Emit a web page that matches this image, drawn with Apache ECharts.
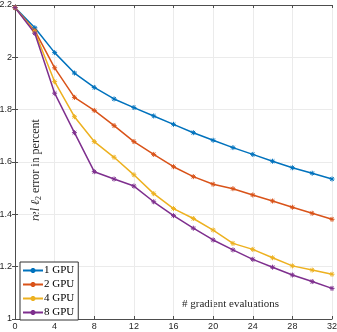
<!DOCTYPE html>
<html>
<head>
<meta charset="utf-8">
<script src="https://cdn.jsdelivr.net/npm/echarts@6/dist/echarts.min.js"></script>
<style>
  html, body { margin: 0; padding: 0; background: #fff; }
  #chart { width: 337px; height: 332px; }
</style>
</head>
<body>
<div id="chart"></div>
<script>
// gradient evaluations (x) and relative l2 error per GPU count
const evals = [0, 2, 4, 6, 8, 10, 12, 14, 16, 18, 20, 22, 24, 26, 28, 30, 32];
const gpu1 = [2.19, 2.113, 2.018, 1.940, 1.885, 1.841, 1.808, 1.776, 1.744, 1.712, 1.683, 1.655, 1.629, 1.603, 1.578, 1.557, 1.535];
const gpu2 = [2.19, 2.102, 1.960, 1.847, 1.797, 1.739, 1.678, 1.629, 1.582, 1.544, 1.515, 1.498, 1.474, 1.451, 1.427, 1.404, 1.381];
const gpu4 = [2.19, 2.098, 1.907, 1.773, 1.678, 1.618, 1.551, 1.479, 1.422, 1.384, 1.340, 1.289, 1.266, 1.234, 1.203, 1.187, 1.171];
const gpu8 = [2.19, 2.092, 1.863, 1.712, 1.563, 1.535, 1.508, 1.448, 1.395, 1.347, 1.302, 1.264, 1.228, 1.198, 1.168, 1.143, 1.117];
const seriesNames = ['1 GPU', '2 GPU', '4 GPU', '8 GPU'];
const colors = ['#0072BD', '#D95319', '#EDB120', '#7E2F8E'];

const star = 'path://M0,-5L0,5M-5,0L5,0M-3.6,-3.6L3.6,3.6M-3.6,3.6L3.6,-3.6';
const axisColor = '#4d4d4d';
const serif = 'Liberation Serif';

function makeSeries(name, vals, color) {
    return {
        name: name,
        type: 'line',
        data: evals.map((x, i) => [x, vals[i]]),
        symbol: star,
        symbolSize: 5,
        showSymbol: true,
        lineStyle: { color: color, width: 1.5 },
        itemStyle: { color: color, borderColor: color, borderWidth: 1 },
        animation: false
    };
}

function baseAxis(extra) {
    return Object.assign({
        axisLine: { show: true, lineStyle: { color: axisColor, width: 1 } },
        axisTick: { show: true, inside: true, length: 3, lineStyle: { color: axisColor } },
        splitLine: { show: false }
    }, extra);
}

const chart = echarts.init(document.getElementById('chart'));
chart.setOption({
    backgroundColor: '#fff',
    animation: false,
    color: colors,
    grid: { left: 15, right: 5, top: 5, bottom: 13, containLabel: false, outerBoundsMode: 'none' },
    xAxis: [
        baseAxis({
            type: 'value', min: 0, max: 32, interval: 4, position: 'bottom',
            axisLabel: { color: '#262626', fontSize: 9, fontFamily: 'Liberation Sans', margin: 3 },
            splitLine: { show: true, lineStyle: { color: '#ebebeb', width: 1 } }
        }),
        baseAxis({
            type: 'value', min: 0, max: 32, interval: 4, position: 'top',
            axisLabel: { show: false }
        })
    ],
    yAxis: [
        baseAxis({
            type: 'value', min: 1, max: 2.2, interval: 0.2, position: 'left',
            axisLabel: {
                color: '#262626', fontSize: 9, fontFamily: 'Liberation Sans', margin: 3,
                formatter: v => String(Math.round(v * 10) / 10)
            },
            splitLine: { show: true, lineStyle: { color: '#ebebeb', width: 1 } }
        }),
        baseAxis({
            type: 'value', min: 1, max: 2.2, interval: 0.2, position: 'right',
            axisLabel: { show: false }
        })
    ],
    legend: {
        orient: 'vertical',
        left: 20,
        top: 262,
        data: seriesNames,
        itemWidth: 20,
        itemHeight: 6,
        itemGap: 3,
        padding: [3, 4, 2, 2],
        backgroundColor: '#fff',
        borderColor: '#333',
        borderWidth: 1,
        borderRadius: 0,
        textStyle: { color: '#000', fontSize: 11, fontFamily: serif, padding: [0, 0, 0, -4] }
    },
    graphic: [{
        type: 'text',
        left: 182,
        top: 299,
        style: { text: '# gradient evaluations', fill: '#262626', font: '11px "Liberation Serif"' }
    }, {
        type: 'text',
        x: 36,
        y: 170,
        rotation: Math.PI / 2,
        style: {
            text: '{i|rel} {i|ℓ}{s|2} error in percent',
            fill: '#262626',
            font: '12px "Liberation Serif"',
            align: 'center',
            verticalAlign: 'middle',
            rich: {
                i: { fontStyle: 'italic', fontSize: 12, fontFamily: serif, fill: '#262626' },
                s: { fontSize: 8, fontFamily: serif, fill: '#262626', padding: [6, 0, 0, 0] }
            }
        }
    }],
    series: [
        makeSeries(seriesNames[0], gpu1, colors[0]),
        makeSeries(seriesNames[1], gpu2, colors[1]),
        makeSeries(seriesNames[2], gpu4, colors[2]),
        makeSeries(seriesNames[3], gpu8, colors[3])
    ]
});
</script>
</body>
</html>
